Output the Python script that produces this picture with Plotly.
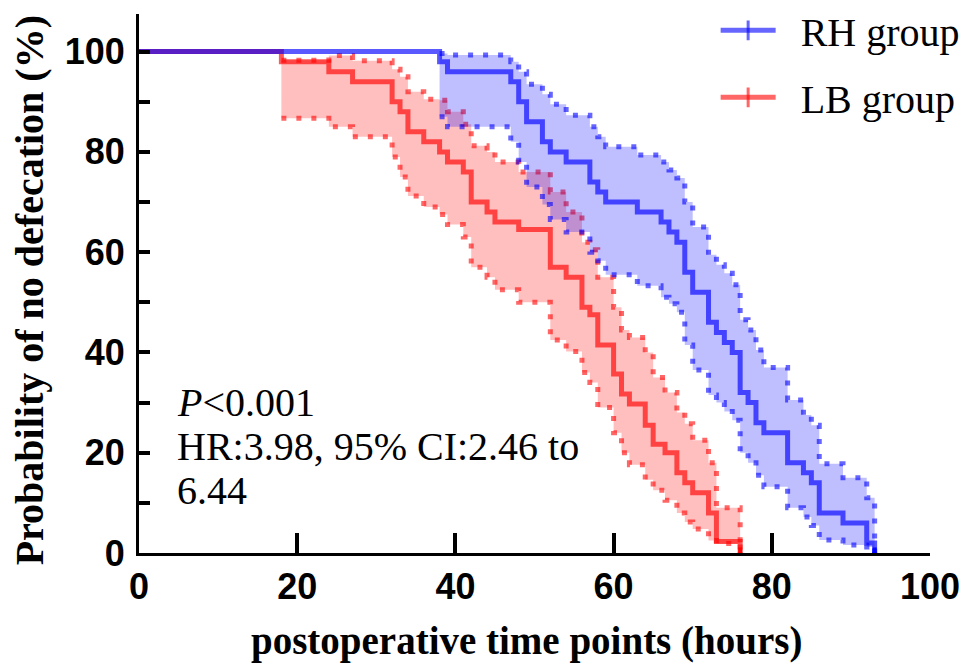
import plotly.graph_objects as go

# Kaplan-Meier estimates (time in hours, survival in %)
rh_time = [0, 38, 39, 47, 48, 49, 51, 52, 54, 57, 58, 59, 63, 66, 67, 68, 69, 70,
           72, 73, 74, 75, 76, 77, 78, 79, 82, 84, 85, 86, 89, 92, 93]
rh_surv = [100, 98, 96, 94, 90, 86, 82, 80, 78, 74, 72, 70, 68, 66, 64, 62, 56, 52,
           46, 44, 42, 40, 32, 30, 26, 24, 18, 16, 14, 8, 6, 2, 0]
# 95% CI, one value per event time (rh_time[1:])
rh_upper = [99.6, 99.3, 98, 96, 93.5, 91.5, 89.5, 87.3, 85, 83, 81, 79.4, 78, 76.4,
            74.8, 70, 65, 59.5, 57.5, 55.8, 53.5, 46.5, 44.5, 40.5, 37, 30.5, 27.5,
            25.5, 17.8, 15, 11, 0]
rh_lower = [87, 85, 82, 78, 73, 69.5, 66.5, 64, 60, 58.3, 55.5, 53.3, 51, 49.7, 48,
            41.5, 36.5, 31.5, 30, 28.2, 26.5, 20, 18, 15.5, 13.2, 9, 7.2, 5.5, 2.6,
            1.6, 1.2, 0]

lb_time = [0, 18, 24, 27, 32, 33, 34, 36, 38, 39, 41, 42, 44, 45, 48, 52, 54, 56,
           57, 58, 60, 61, 62, 64, 65, 66.5, 68, 69, 70, 72, 73, 76]
lb_surv = [100, 98, 96, 94, 90, 88, 84, 82, 80, 78, 76, 70, 68, 66, 64.5, 57, 55, 49,
           47.5, 41.5, 35.7, 31.7, 29.7, 25.5, 21.7, 20, 16, 14, 12, 8, 2.3, 0]
lb_upper = [98.3, 99.2, 98.2, 96.5, 95, 92, 90.5, 90.3, 88, 85.5, 81.2, 80, 78, 76,
            72, 68, 62, 60.5, 55, 49, 44.5, 43, 40, 35, 32, 28, 25.8, 22.5, 18, 9, 0]
lb_lower = [86.7, 85, 83, 79, 75, 71.2, 69, 67.5, 65.5, 63, 57, 55, 52.5, 50, 42.5,
            40.2, 36, 34, 29, 24, 20, 17.6, 14.6, 12.5, 10.5, 8, 6.2, 4.8, 2.5, 1.9, 0]

groups = [
    ("LB group", lb_time, lb_surv, lb_upper, lb_lower, "255,0,0"),
    ("RH group", rh_time, rh_surv, rh_upper, rh_lower, "0,0,255"),
]

SERIF = "Liberation Serif, Times New Roman, serif"
SANS = "Liberation Sans, Arial, sans-serif"

fig = go.Figure()

# confidence bands first (dotted bounds + shaded area)
for name, t, s, up, lo, rgb in groups:
    dot = dict(color="rgba(%s,0.6)" % rgb, width=5, dash="5px,10px", shape="hv")
    fig.add_trace(go.Scatter(x=t[1:], y=lo, mode="lines", line=dot,
                             showlegend=False, hoverinfo="skip"))
    fig.add_trace(go.Scatter(x=t[1:], y=up, mode="lines", line=dot,
                             fill="tonexty", fillcolor="rgba(%s,0.25)" % rgb,
                             showlegend=False, hoverinfo="skip"))

# survival curves
for name, t, s, up, lo, rgb in groups:
    fig.add_trace(go.Scatter(x=t, y=s, mode="lines", name=name,
                             line=dict(color="rgba(%s,0.65)" % rgb, width=5, shape="hv"),
                             showlegend=False))
    # censor tick at the end of follow-up
    fig.add_trace(go.Scatter(x=t[-1:], y=s[-1:], mode="markers", showlegend=False,
                             hoverinfo="skip",
                             marker=dict(symbol="line-ns", size=8,
                                         line=dict(color="rgba(%s,0.9)" % rgb, width=4))))

# legend entries (line with censor tick)
for name, t, s, up, lo, rgb in groups[::-1]:
    fig.add_trace(go.Scatter(x=[None], y=[None], mode="lines+markers",
                             name="\u00a0\u00a0" + name, legendgroup=name,
                             line=dict(color="rgba(%s,0.6)" % rgb, width=5),
                             marker=dict(symbol="line-ns", size=14,
                                         line=dict(color="rgba(%s,0.6)" % rgb, width=3))))

# page body has an 8px margin, so the figure is shifted by (8, 8) in the window
fig.update_layout(
    width=969, height=664,
    margin=dict(l=131, r=47, t=6, b=119, autoexpand=False),
    paper_bgcolor="white", plot_bgcolor="white",
    showlegend=True,
    legend=dict(x=0.729, y=1.03, xanchor="left", yanchor="top",
                font=dict(family=SERIF, size=40, color="black"),
                traceorder="grouped", tracegroupgap=12,
                bgcolor="rgba(0,0,0,0)", itemwidth=55),
    xaxis=dict(range=[0, 100], dtick=20, ticks="inside", ticklen=20, tickwidth=4,
               tickcolor="black", showline=True, linecolor="black", linewidth=3,
               showgrid=False, zeroline=False, automargin=False,
               tickfont=dict(family=SANS, size=36, color="black", weight="bold")),
    yaxis=dict(range=[0, 107.5], tickvals=[0, 20, 40, 60, 80, 100],
               ticks="inside", ticklen=11, tickwidth=4, tickcolor="black",
               minor=dict(tickvals=[10, 30, 50, 70, 90], ticks="inside", ticklen=11,
                          tickwidth=4, tickcolor="black"),
               showline=True, linecolor="black", linewidth=3,
               showgrid=False, zeroline=False, automargin=False,
               ticklabelstandoff=4,
               tickfont=dict(family=SANS, size=36, color="black", weight="bold")),
)

# axis titles
fig.add_annotation(text="<b>postoperative time points (hours)</b>", xref="paper", yref="paper",
                   x=0.49, y=-0.163, xanchor="center", yanchor="middle", showarrow=False,
                   font=dict(family=SERIF, size=39, color="black"))
fig.add_annotation(text="<b>Probability of no defecation (%)</b>", xref="paper", yref="paper",
                   x=-0.138, y=0.487, xanchor="center", yanchor="middle",
                   textangle=-90, showarrow=False,
                   font=dict(family=SERIF, size=40, color="black"))

# statistics text
stats_lines = ["<i>P</i><0.001", "HR:3.98, 95% CI:2.46 to", "6.44"]
for i, txt in enumerate(stats_lines):
    fig.add_annotation(text=txt, xref="paper", yref="paper", x=0.046, y=0.28 - i * 0.082,
                       xanchor="left", yanchor="middle", showarrow=False,
                       font=dict(family=SERIF, size=40, color="black"))

fig.write_html("out.html")
